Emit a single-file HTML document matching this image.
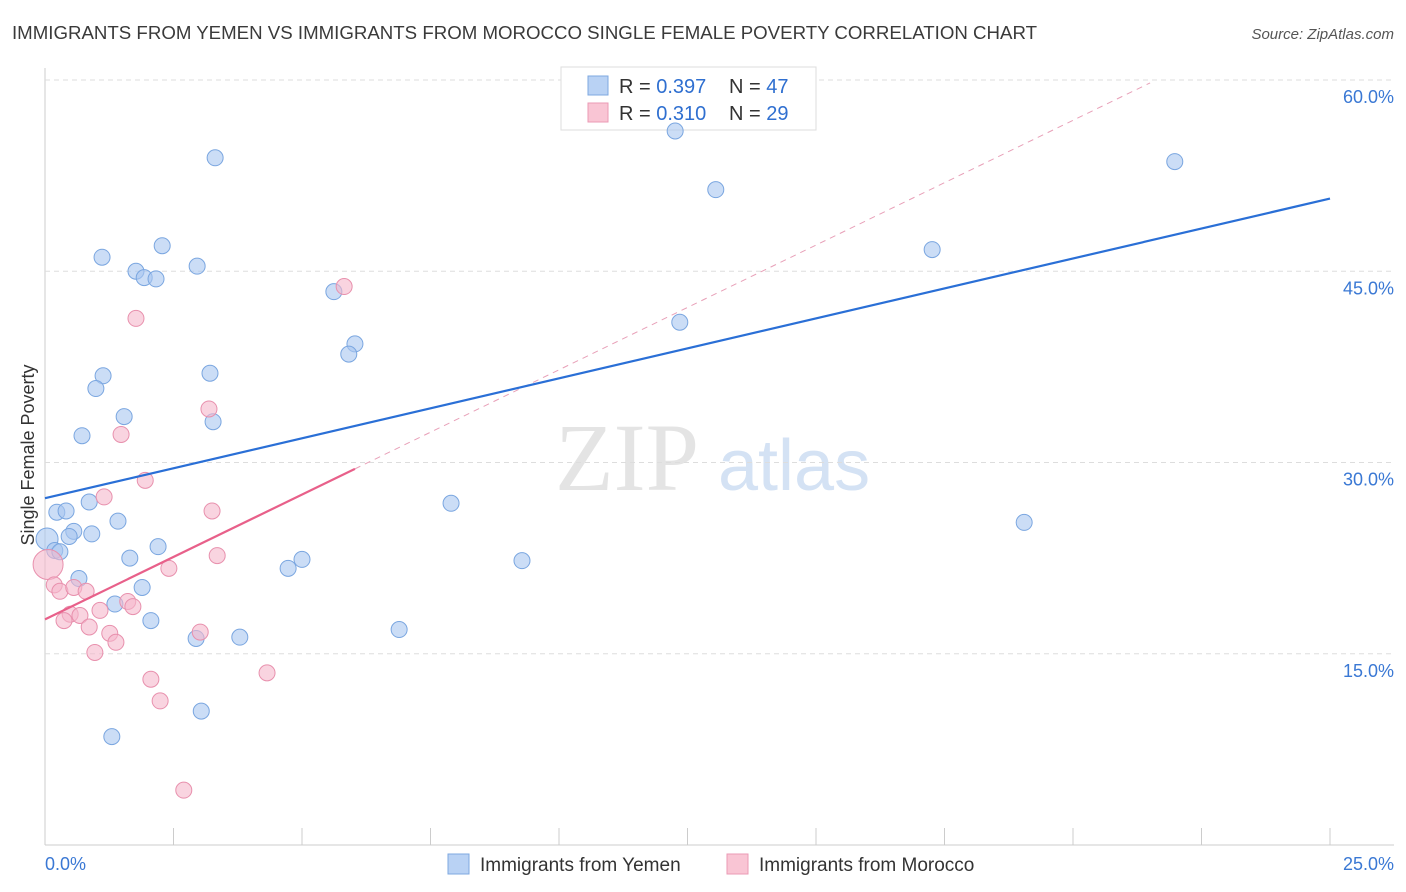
<!DOCTYPE html>
<html><head><meta charset="utf-8"><style>
body{margin:0;background:#fff;font-family:"Liberation Sans",sans-serif;}
svg{display:block}
</style></head><body>
<svg id="c" width="1406" height="892" xmlns="http://www.w3.org/2000/svg">
<text x="12" y="39" font-size="18" fill="#3a3a3a" textLength="1025" lengthAdjust="spacingAndGlyphs">IMMIGRANTS FROM YEMEN VS IMMIGRANTS FROM MOROCCO SINGLE FEMALE POVERTY CORRELATION CHART</text>
<text x="1394" y="39" font-size="15" fill="#555" font-style="italic" text-anchor="end">Source: ZipAtlas.com</text>
<text x="0" y="0" transform="translate(34,455) rotate(-90)" font-size="18" fill="#333" text-anchor="middle">Single Female Poverty</text>
<text x="555" y="490" font-size="96" fill="#e4e4e4" font-family="Liberation Serif,serif">ZIP</text>
<text x="718" y="490" font-size="72" fill="#d4e2f4">atlas</text>
<g id="grid"></g><g id="ticks"></g>
<g>
<rect x="561" y="67" width="255" height="63" fill="#fff" stroke="#ddd"/>
<rect x="588" y="76" width="20" height="19" fill="#b9d2f4" stroke="#7ea8e0"/>
<rect x="588" y="103" width="20" height="19" fill="#f9c5d4" stroke="#eb9ab5"/>
<text x="619" y="93" font-size="20" fill="#333">R = <tspan fill="#2f6fd0">0.397</tspan></text>
<text x="729" y="93" font-size="20" fill="#333">N = <tspan fill="#2f6fd0">47</tspan></text>
<text x="619" y="120" font-size="20" fill="#333">R = <tspan fill="#2f6fd0">0.310</tspan></text>
<text x="729" y="120" font-size="20" fill="#333">N = <tspan fill="#2f6fd0">29</tspan></text>
</g>
<g id="pts"></g><g id="lines"></g>
<g>
<rect x="448" y="854" width="21" height="20" fill="#b9d2f4" stroke="#7ea8e0"/>
<text x="480" y="871" font-size="19" fill="#333">Immigrants from Yemen</text>
<rect x="727" y="854" width="21" height="20" fill="#f9c5d4" stroke="#eb9ab5"/>
<text x="759" y="871" font-size="19" fill="#333">Immigrants from Morocco</text>
</g>
<text x="45" y="870" font-size="18" fill="#3a78d4">0.0%</text>
<text x="1394" y="870" font-size="18" fill="#3a78d4" text-anchor="end">25.0%</text>
</svg>
<script>
const yTicks=[15,30,45,60];
const yTickLabels=["15.0%","30.0%","45.0%","60.0%"];
const yemenX=[3.31,12.26,13.05,21.98,2.28,1.11,2.96,1.77,1.93,2.16,5.62,17.26,12.35,6.03,5.91,3.21,1.13,0.99,1.54,3.27,0.72,0.86,7.90,0.23,0.41,1.42,19.05,0.56,0.91,0.47,0.04,0.19,0.29,2.20,1.65,5.00,9.28,4.73,0.66,1.89,1.36,2.06,6.89,3.79,2.94,3.04,1.30];
const yemenY=[53.9,56.0,51.4,53.6,47.0,46.1,45.4,45.0,44.5,44.4,43.4,46.7,41.0,39.3,38.5,37.0,36.8,35.8,33.6,33.2,32.1,26.9,26.8,26.1,26.2,25.4,25.3,24.6,24.4,24.2,24.0,23.1,23.0,23.4,22.5,22.4,22.3,21.7,20.9,20.2,18.9,17.6,16.9,16.3,16.2,10.5,8.5];
const moroccoX=[5.82,1.77,3.19,1.48,1.95,1.15,3.25,3.35,0.06,2.41,0.18,0.29,0.56,0.80,1.07,0.49,0.68,1.61,1.71,0.37,0.86,1.26,1.38,0.97,3.02,2.06,4.32,2.24,2.70];
const moroccoY=[43.8,41.3,34.2,32.2,28.6,27.3,26.2,22.7,22.0,21.7,20.4,19.9,20.2,19.9,18.4,18.1,18.0,19.1,18.7,17.6,17.1,16.6,15.9,15.1,16.7,13.0,13.5,11.3,4.3];
const yemenTrend=[27.2,50.7];
const moroccoTrend=[17.7,29.5];
const moroccoSolidEnd=6.03;
const moroccoDashEnd=21.5;
const NS="http://www.w3.org/2000/svg";
const X=v=>45+v*51.4, Y=v=>845-v*12.75;
function mk(t,a,p){const e=document.createElementNS(NS,t);for(const k in a)e.setAttribute(k,a[k]);document.getElementById(p).appendChild(e);return e;}
const ax=mk('line',{x1:45,y1:845,x2:1394,y2:845,stroke:'#ccc'},'grid');


const ay=mk('line',{x1:45,y1:68,x2:45,y2:845,stroke:'#ccc'},'grid');


yTicks.forEach((t,i)=>{
 const g=mk('line',{x1:45,y1:Y(t),x2:1394,y2:Y(t),stroke:'#ddd','stroke-dasharray':'5,4'},'grid');
 
 
 const l=mk('text',{x:1394,y:Y(t)+23,'font-size':18,fill:'#3a78d4','text-anchor':'end'},'ticks');
 l.textContent=yTickLabels[i];
 
 
});
for(let i=0;i<=10;i++){const t=mk('line',{x1:X(i*2.5),y1:828,x2:X(i*2.5),y2:845,stroke:'#ccc'},'ticks');
 
 }
yemenX.forEach((x,i)=>{const c=mk('circle',{cx:X(x),cy:Y(yemenY[i]),r:(x<0.1?11:8),fill:'rgba(169,199,240,0.6)',stroke:'#7aa6e0','stroke-width':1},'pts');
 
 });
moroccoX.forEach((x,i)=>{const c=mk('circle',{cx:X(x),cy:Y(moroccoY[i]),r:(x<0.1?15:8),fill:'rgba(245,184,203,0.6)',stroke:'#e890ad','stroke-width':1},'pts');
 
 });
const sl=(moroccoTrend[1]-moroccoTrend[0])/moroccoSolidEnd;
const d=mk('line',{x1:X(moroccoSolidEnd),y1:Y(moroccoTrend[1]),x2:X(moroccoDashEnd),y2:Y(moroccoTrend[0]+sl*moroccoDashEnd),stroke:'#e8a0b8','stroke-dasharray':'6,5'},'lines');


const b=mk('line',{x1:X(0),y1:Y(yemenTrend[0]),x2:X(25),y2:Y(yemenTrend[1]),stroke:'#2a6fd6','stroke-width':2.2},'lines');


const p=mk('line',{x1:X(0),y1:Y(moroccoTrend[0]),x2:X(moroccoSolidEnd),y2:Y(moroccoTrend[1]),stroke:'#e8608a','stroke-width':2.2},'lines');


</script>
</body></html>
